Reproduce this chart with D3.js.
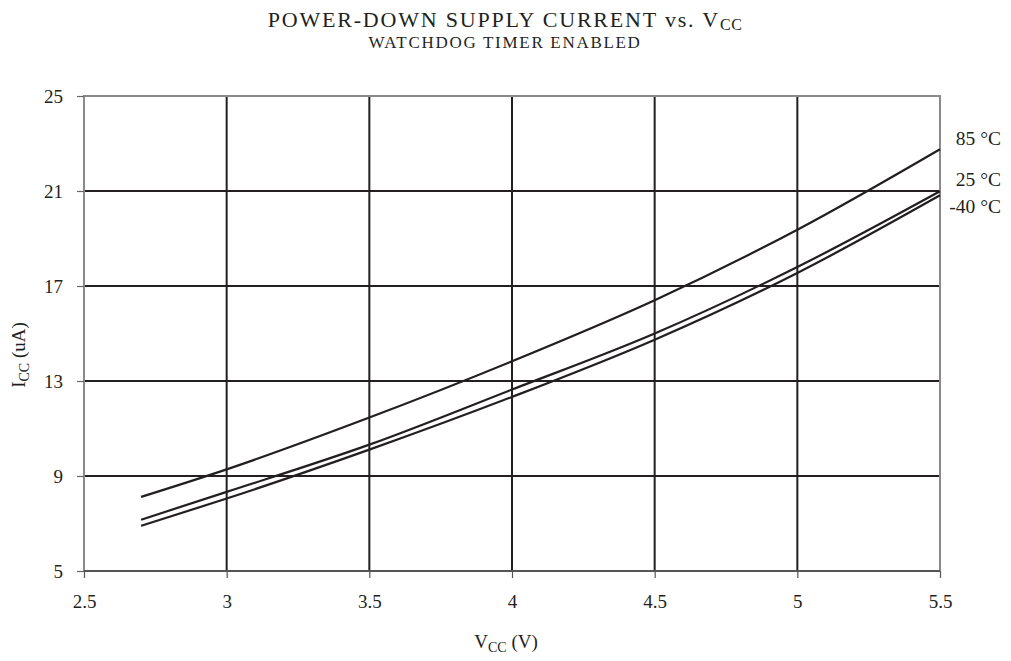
<!DOCTYPE html>
<html>
<head>
<meta charset="utf-8">
<script src="https://cdn.jsdelivr.net/npm/d3@7"></script>
<style>
  html, body { margin: 0; padding: 0; background: #fff; }
  svg text { font-family: "Liberation Serif", "Times New Roman", serif; fill: #231f20; }
</style>
</head>
<body>
<svg id="chart" width="1011" height="661"></svg>
<script>
// Supply voltage (V) at which current was measured
const vcc = [2.7, 3.0, 3.5, 4.0, 4.5, 5.0, 5.5];
// Power-down supply current (uA) per temperature
const icc85 = [8.12, 9.28, 11.46, 13.83, 16.4, 19.37, 22.76];
const icc25 = [7.16, 8.33, 10.32, 12.64, 15.0, 17.8, 20.99];
const iccM40 = [6.9, 8.05, 10.11, 12.33, 14.74, 17.55, 20.82];
const seriesLabels = ["85 °C", "25 °C", "-40 °C"];
const xTicks = [2.5, 3, 3.5, 4, 4.5, 5, 5.5];
const yTicks = [5, 9, 13, 17, 21, 25];

const svg = d3.select("#chart");
const plotL = 84, plotR = 940, plotT = 96, plotB = 571;

const x = d3.scaleLinear().domain([2.5, 5.5]).range([plotL, plotR]);
const y = d3.scaleLinear().domain([5, 25]).range([plotB, plotT]);

const ink = "#231f20";
const frame = "#8a8a8a";

// Interior grid lines
svg.append("g").selectAll("line")
  .data(xTicks.slice(1, -1)).join("line")
  .attr("x1", d => x(d)).attr("x2", d => x(d))
  .attr("y1", plotT).attr("y2", plotB)
  .attr("stroke", ink).attr("stroke-width", 2);
svg.append("g").selectAll("line")
  .data(yTicks.slice(1, -1)).join("line")
  .attr("x1", plotL).attr("x2", plotR)
  .attr("y1", d => y(d)).attr("y2", d => y(d))
  .attr("stroke", ink).attr("stroke-width", 2);

// Plot frame
svg.append("rect")
  .attr("x", plotL).attr("y", plotT)
  .attr("width", plotR - plotL).attr("height", plotB - plotT)
  .attr("fill", "none").attr("stroke", frame).attr("stroke-width", 2);
svg.append("line")
  .attr("x1", plotL).attr("x2", plotR).attr("y1", plotB).attr("y2", plotB)
  .attr("stroke", "#555").attr("stroke-width", 2);

// Axes
const xAxis = svg.append("g")
  .attr("transform", `translate(0,${plotB})`)
  .call(d3.axisBottom(x).tickValues(xTicks).tickFormat(d3.format("")).tickSize(7).tickPadding(17));
xAxis.select(".domain").remove();
xAxis.selectAll("line").attr("stroke", "#555").attr("stroke-width", 1.2);
xAxis.selectAll("text").attr("font-size", 19).attr("fill", ink)
  .style("font-family", '"Liberation Serif", serif');

const yAxis = svg.append("g")
  .attr("transform", `translate(${plotL},0)`)
  .call(d3.axisLeft(y).tickValues(yTicks).tickSize(7).tickPadding(14));
yAxis.select(".domain").remove();
yAxis.selectAll("line").attr("stroke", "#666").attr("stroke-width", 1.2);
yAxis.selectAll("text").attr("font-size", 19).attr("fill", ink)
  .style("font-family", '"Liberation Serif", serif');

// Curves
const line = d3.line()
  .x((d, i) => x(vcc[i]))
  .y(d => y(d))
  .curve(d3.curveMonotoneX);
[icc85, icc25, iccM40].forEach(s => {
  svg.append("path").datum(s)
    .attr("d", line)
    .attr("fill", "none").attr("stroke", ink).attr("stroke-width", 2.2);
});

// Temperature labels at right end
const labelY = [145, 186, 213];
svg.append("g").selectAll("text")
  .data(seriesLabels).join("text")
  .attr("x", 1001).attr("y", (d, i) => labelY[i])
  .attr("text-anchor", "end").attr("font-size", 19.5)
  .text(d => d);

// Titles
const t1 = svg.append("text").attr("x", 505).attr("y", 27)
  .attr("text-anchor", "middle").attr("font-size", 22)
  .attr("letter-spacing", 1.8);
t1.append("tspan").text("POWER-DOWN SUPPLY CURRENT vs. V");
t1.append("tspan").attr("font-size", 16).attr("dy", 3).attr("letter-spacing", 0.5).text("CC");

svg.append("text").attr("x", 505).attr("y", 48)
  .attr("text-anchor", "middle").attr("font-size", 17)
  .attr("letter-spacing", 1.7)
  .text("WATCHDOG TIMER ENABLED");

// Axis titles
const xt = svg.append("text").attr("x", 506).attr("y", 648)
  .attr("text-anchor", "middle").attr("font-size", 19);
xt.append("tspan").text("V");
xt.append("tspan").attr("font-size", 14).attr("dy", 4).text("CC");
xt.append("tspan").attr("dy", -4).text(" (V)");

const yt = svg.append("text")
  .attr("transform", "translate(25,355) rotate(-90)")
  .attr("text-anchor", "middle").attr("font-size", 19);
yt.append("tspan").text("I");
yt.append("tspan").attr("font-size", 14).attr("dy", 4).text("CC");
yt.append("tspan").attr("dy", -4).text(" (uA)");
</script>
</body>
</html>
